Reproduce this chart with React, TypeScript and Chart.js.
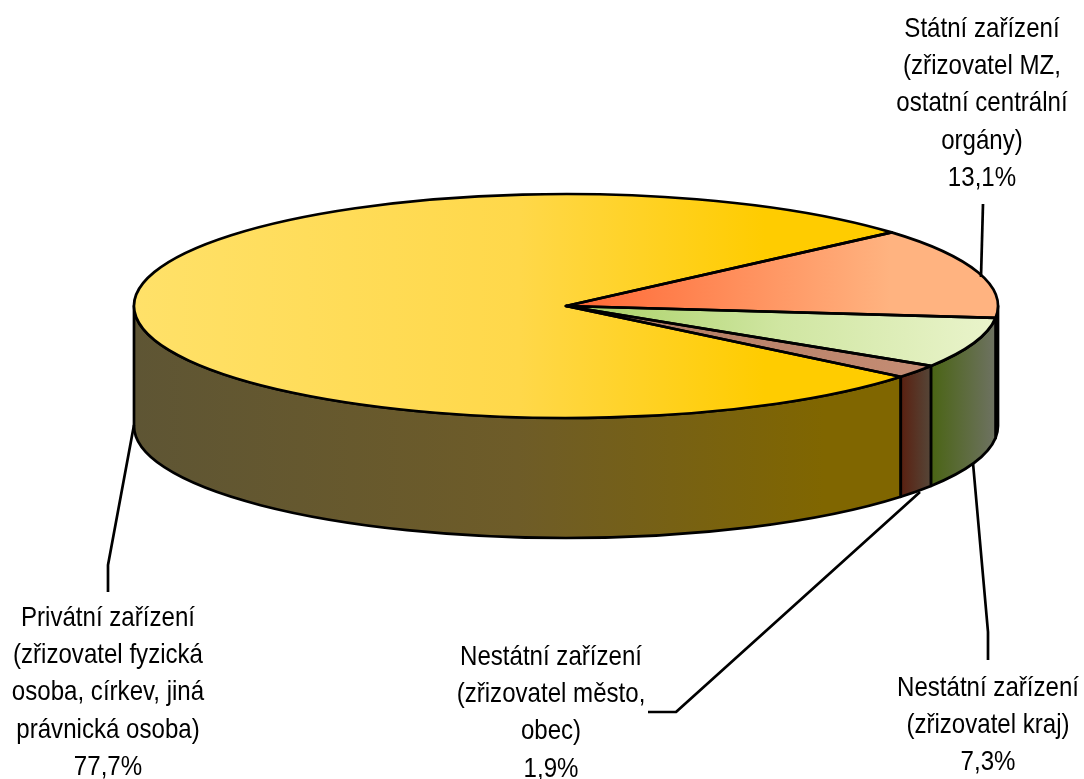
import React, { useEffect, useRef } from "react";
import { Chart, registerables } from "chart.js";

Chart.register(...registerables);

const categories = [
  "Privátní zařízení (zřizovatel fyzická osoba, církev, jiná právnická osoba)",
  "Státní zařízení (zřizovatel MZ, ostatní centrální orgány)",
  "Nestátní zařízení (zřizovatel kraj)",
  "Nestátní zařízení (zřizovatel město, obec)",
];
const shares = [77.7, 13.1, 7.3, 1.9];

const topStops: [number, string][][] = [
  [[0, "#FFE169"], [0.5, "#FFD84A"], [0.82, "#FFCC00"], [1, "#FFCC00"]],
  [[0, "#FF6633"], [0.75, "#FFB380"], [1, "#FFB380"]],
  [[0, "#A6CF62"], [0.5, "#D0E6A2"], [1, "#EAF4CC"]],
  [[0, "#B07A60"], [1, "#C89078"]],
];
const wallStops: [number, string][][] = [
  [[0, "#5E5534"], [0.5, "#6E5C28"], [0.9, "#806600"], [1, "#806600"]],
  [[0, "#A0603C"], [1, "#A0603C"]],
  [[0, "#4A6414"], [1, "#6E7262"]],
  [[0, "#5A2010"], [1, "#554638"]],
];

const labelLines = [
  ["Privátní zařízení", "(zřizovatel fyzická", "osoba, církev, jiná", "právnická osoba)", "77,7%"],
  ["Státní zařízení", "(zřizovatel MZ,", "ostatní centrální", "orgány)", "13,1%"],
  ["Nestátní zařízení", "(zřizovatel kraj)", "7,3%"],
  ["Nestátní zařízení", "(zřizovatel město,", "obec)", "1,9%"],
];
const labelAnchors = [
  { x: 108, y: 626 },
  { x: 982, y: 37 },
  { x: 988, y: 696 },
  { x: 551, y: 665 },
];
const leaders = [
  [[108, 592], [108, 565], [134, 425]],
  [[983, 204], [981, 277]],
  [[988, 660], [988, 632], [973, 463]],
  [[648, 712], [676, 712], [920, 492]],
];

const RADIUS = 432;
const SQUASH = 112 / 432;
const DEPTH = 120;
const LINE_HEIGHT = 37.2;
const FONT = '28px "Liberation Sans", Arial, sans-serif';
const TEXT_SCALE = 0.86;
const OUTLINE = "#000000";
const LINE_WIDTH = 2.7;

function grad(ctx: CanvasRenderingContext2D, x0: number, x1: number, stops: [number, string][]) {
  const g = ctx.createLinearGradient(x0, 0, x1, 0);
  stops.forEach(([p, c]) => g.addColorStop(p, c));
  return g;
}

const pie3d = {
  id: "pie3d",
  beforeDatasetsDraw(chart: any) {
    const ctx: CanvasRenderingContext2D = chart.ctx;
    const arcs = chart.getDatasetMeta(0).data;
    if (!arcs.length) return;
    const cx = arcs[0].x;
    const cy = arcs[0].y;
    const rx = arcs[0].outerRadius;
    const ry = rx * SQUASH;
    arcs.forEach((arc: any, i: number) => {
      for (const k of [-2, 0, 2]) {
        const a = Math.max(arc.startAngle, k * Math.PI);
        const b = Math.min(arc.endAngle, (k + 1) * Math.PI);
        if (b <= a) continue;
        const x0 = cx + rx * Math.cos(b);
        const x1 = cx + rx * Math.cos(a);
        ctx.beginPath();
        ctx.ellipse(cx, cy, rx, ry, 0, a, b);
        ctx.ellipse(cx, cy + DEPTH, rx, ry, 0, b, a, true);
        ctx.closePath();
        ctx.fillStyle = grad(ctx, x0, x1, wallStops[i]);
        ctx.fill();
        ctx.lineWidth = LINE_WIDTH;
        ctx.lineJoin = "round";
        ctx.strokeStyle = OUTLINE;
        ctx.stroke();
      }
    });
    ctx.save();
    ctx.translate(0, cy);
    ctx.scale(1, SQUASH);
    ctx.translate(0, -cy);
  },
  afterDatasetsDraw(chart: any) {
    const ctx: CanvasRenderingContext2D = chart.ctx;
    const arcs = chart.getDatasetMeta(0).data;
    if (!arcs.length) return;
    ctx.restore();
    const cx = arcs[0].x;
    const cy = arcs[0].y;
    const rx = arcs[0].outerRadius;
    const ry = rx * SQUASH;
    ctx.lineWidth = LINE_WIDTH;
    ctx.lineJoin = "round";
    ctx.strokeStyle = OUTLINE;
    arcs.forEach((arc: any) => {
      ctx.beginPath();
      ctx.moveTo(cx, cy);
      ctx.ellipse(cx, cy, rx, ry, 0, arc.startAngle, arc.endAngle);
      ctx.closePath();
      ctx.stroke();
    });
  },
  afterDraw(chart: any) {
    const ctx: CanvasRenderingContext2D = chart.ctx;
    ctx.save();
    ctx.strokeStyle = OUTLINE;
    ctx.lineWidth = LINE_WIDTH;
    leaders.forEach((pts) => {
      ctx.beginPath();
      pts.forEach(([x, y], i) => (i ? ctx.lineTo(x, y) : ctx.moveTo(x, y)));
      ctx.stroke();
    });
    ctx.fillStyle = "#000000";
    ctx.font = FONT;
    ctx.textAlign = "center";
    ctx.textBaseline = "alphabetic";
    labelLines.forEach((lines, i) => {
      lines.forEach((t, j) => {
        ctx.save();
        ctx.translate(labelAnchors[i].x, labelAnchors[i].y + j * LINE_HEIGHT);
        ctx.scale(TEXT_SCALE, 1);
        ctx.fillText(t, 0, 0);
        ctx.restore();
      });
    });
    ctx.restore();
  },
};

export default function App() {
  const ref = useRef<HTMLCanvasElement>(null);
  useEffect(() => {
    if (!ref.current) return;
    const chart = new Chart(ref.current, {
      type: "pie",
      data: {
        labels: categories,
        datasets: [
          {
            data: shares,
            clip: false,
            borderWidth: 0,
            backgroundColor: (c: any) => {
              const i = c.dataIndex ?? 0;
              const area = c.chart.chartArea;
              if (!area) return "#FFCC00";
              const mid = (area.left + area.right) / 2;
              if (i === 0) return grad(c.chart.ctx, mid - RADIUS, mid + RADIUS * 0.78, topStops[0]);
              return grad(c.chart.ctx, mid, mid + RADIUS, topStops[i]);
            },
          } as any,
        ],
      },
      options: {
        responsive: false,
        animation: false,
        rotation: 129.2,
        radius: RADIUS,
        layout: { padding: { left: 48, right: 0, top: 0, bottom: 167 } },
        plugins: { legend: { display: false }, tooltip: { enabled: false }, title: { display: false } },
      } as any,
      plugins: [pie3d],
    });
    return () => chart.destroy();
  }, []);
  return (
    <canvas
      ref={ref}
      width={1084}
      height={779}
      style={{ position: "absolute", left: 0, top: 0, display: "block" }}
    />
  );
}
